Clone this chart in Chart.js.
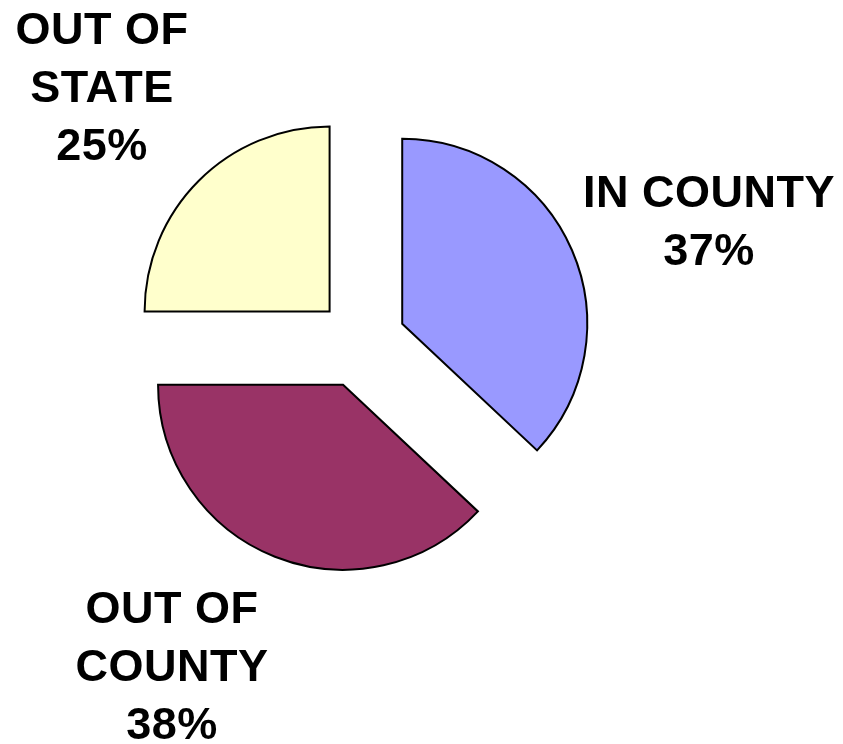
<!DOCTYPE html>
<html>
<head>
<meta charset="utf-8">
<script src="https://cdn.jsdelivr.net/npm/chart.js@4/dist/chart.umd.min.js"></script>
<style>
  html, body { margin: 0; padding: 0; background: #ffffff; }
  #wrap { width: 843px; height: 744px; position: relative; }
</style>
</head>
<body>
<div id="wrap"><canvas id="c"></canvas></div>
<script>
// ---- data ----
const categories = ['IN COUNTY', 'OUT OF COUNTY', 'OUT OF STATE'];
const values = [37, 38, 25];
const labelLines = [['IN COUNTY'], ['OUT OF', 'COUNTY'], ['OUT OF', 'STATE']];
const sliceColors = ['#9999FF', '#993366', '#FFFFCC'];

// ---- styling / layout (not data) ----
const explodeDist = [46, 46, 43];
const labelAnchors = [
  { x: 709, y: 207 },
  { x: 172, y: 623 },
  { x: 102, y: 44 }
];
const labelLineHeight = 58;

const explodePlugin = {
  id: 'explode',
  afterDatasetsUpdate(chart) {
    const meta = chart.getDatasetMeta(0);
    meta.data.forEach((arc, i) => {
      const mid = (arc.startAngle + arc.endAngle) / 2;
      arc.x += Math.cos(mid) * explodeDist[i];
      arc.y += Math.sin(mid) * explodeDist[i];
    });
  }
};

const labelPlugin = {
  id: 'sliceLabels',
  afterDatasetsDraw(chart) {
    const ctx = chart.ctx;
    const ds = chart.data.datasets[0];
    ctx.save();
    ctx.fillStyle = '#000000';
    ctx.font = 'bold 45px "Liberation Sans", Arial, sans-serif';
    ctx.textAlign = 'center';
    ctx.textBaseline = 'alphabetic';
    try { ctx.letterSpacing = '0.5px'; } catch (e) {}
    ds.data.forEach((v, i) => {
      const lines = labelLines[i].concat([v + '%']);
      const a = labelAnchors[i];
      lines.forEach((t, k) => {
        ctx.fillText(t, a.x, a.y + k * labelLineHeight);
      });
    });
    ctx.restore();
  }
};

new Chart(document.getElementById('c'), {
  type: 'pie',
  data: {
    labels: categories,
    datasets: [{
      data: values,
      backgroundColor: sliceColors,
      borderColor: '#000000',
      borderWidth: 2,
      borderJoinStyle: 'miter'
    }]
  },
  options: {
    responsive: true,
    maintainAspectRatio: false,
    animation: false,
    radius: 185,
    layout: { padding: { left: 0, right: 123, top: 0, bottom: 60 } },
    plugins: {
      legend: { display: false },
      tooltip: { enabled: false }
    },
    events: []
  },
  plugins: [explodePlugin, labelPlugin]
});
</script>
</body>
</html>
